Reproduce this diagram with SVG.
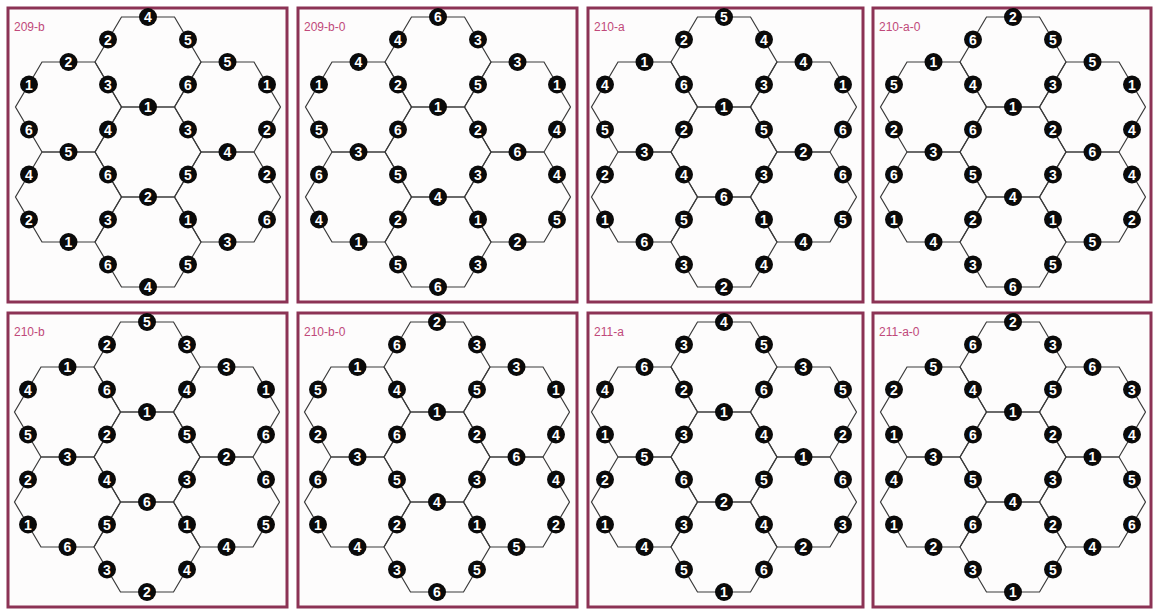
<svg xmlns="http://www.w3.org/2000/svg" xmlns:xlink="http://www.w3.org/1999/xlink" width="1155" height="610" viewBox="0 0 1155 610">
<style>
.frame{fill:#fdfcfc;stroke:#8c3355;stroke-width:3}
.ttl{font-family:"Liberation Sans",Arial,sans-serif;font-size:12px;fill:#c0497a}
.edge{fill:none;stroke:#3a3a3a;stroke-width:1.2}
.n circle{fill:#0a0a0a}
.n text{font-family:"Liberation Sans",Arial,sans-serif;font-weight:bold;font-size:14px;fill:#ffffff;text-anchor:middle}
</style>
<defs>
<polygon id="hx" class="edge" points="-26.5,-45 26.5,-45 53,0 26.5,45 -26.5,45 -53,0"/>
<g id="grid">
<use xlink:href="#hx" href="#hx"/>
<use xlink:href="#hx" href="#hx" y="-90"/>
<use xlink:href="#hx" href="#hx" y="90"/>
<use xlink:href="#hx" href="#hx" x="-79.5" y="-45"/>
<use xlink:href="#hx" href="#hx" x="79.5" y="-45"/>
<use xlink:href="#hx" href="#hx" x="-79.5" y="45"/>
<use xlink:href="#hx" href="#hx" x="79.5" y="45"/>
</g>
</defs>
<rect x="0" y="0" width="1155" height="610" fill="#ffffff"/>
<g id="frames">
<rect class="frame" x="8" y="8" width="279" height="294"/>
<rect class="frame" x="298" y="8" width="279" height="294"/>
<rect class="frame" x="588" y="8" width="275" height="294"/>
<rect class="frame" x="873" y="8" width="278" height="294"/>
<rect class="frame" x="8" y="313" width="279" height="294"/>
<rect class="frame" x="298" y="313" width="279" height="294"/>
<rect class="frame" x="588" y="313" width="275" height="294"/>
<rect class="frame" x="873" y="313" width="278" height="294"/>
<text class="ttl" x="14" y="31">209-b</text>
<text class="ttl" x="304" y="31">209-b-0</text>
<text class="ttl" x="594" y="31">210-a</text>
<text class="ttl" x="879" y="31">210-a-0</text>
<text class="ttl" x="14" y="336">210-b</text>
<text class="ttl" x="304" y="336">210-b-0</text>
<text class="ttl" x="594" y="336">211-a</text>
<text class="ttl" x="879" y="336">211-a-0</text>
</g>
<g id="connectors">
<use xlink:href="#grid" href="#grid" x="148" y="152"/>
<use xlink:href="#grid" href="#grid" x="438" y="152"/>
<use xlink:href="#grid" href="#grid" x="724" y="152"/>
<use xlink:href="#grid" href="#grid" x="1013" y="152"/>
<use xlink:href="#grid" href="#grid" x="147" y="457"/>
<use xlink:href="#grid" href="#grid" x="437" y="457"/>
<use xlink:href="#grid" href="#grid" x="724" y="457"/>
<use xlink:href="#grid" href="#grid" x="1013" y="457"/>
</g>
<g id="panel1" transform="translate(148,152)">
<g id="p1n1" class="n" transform="translate(0,-135)"><circle r="9"/><text y="5">4</text></g>
<g id="p1n2" class="n" transform="translate(-40,-112.5)"><circle r="9"/><text y="5">2</text></g>
<g id="p1n3" class="n" transform="translate(40,-112.5)"><circle r="9"/><text y="5">5</text></g>
<g id="p1n4" class="n" transform="translate(-79.5,-90)"><circle r="9"/><text y="5">2</text></g>
<g id="p1n5" class="n" transform="translate(-119,-67.5)"><circle r="9"/><text y="5">1</text></g>
<g id="p1n6" class="n" transform="translate(-119,-22.5)"><circle r="9"/><text y="5">6</text></g>
<g id="p1n7" class="n" transform="translate(-40,-67.5)"><circle r="9"/><text y="5">3</text></g>
<g id="p1n8" class="n" transform="translate(-40,-22.5)"><circle r="9"/><text y="5">4</text></g>
<g id="p1n9" class="n" transform="translate(0,-45)"><circle r="9"/><text y="5">1</text></g>
<g id="p1n10" class="n" transform="translate(40,-67.5)"><circle r="9"/><text y="5">6</text></g>
<g id="p1n11" class="n" transform="translate(40,-22.5)"><circle r="9"/><text y="5">3</text></g>
<g id="p1n12" class="n" transform="translate(79.5,-90)"><circle r="9"/><text y="5">5</text></g>
<g id="p1n13" class="n" transform="translate(119,-67.5)"><circle r="9"/><text y="5">1</text></g>
<g id="p1n14" class="n" transform="translate(119,-22.5)"><circle r="9"/><text y="5">2</text></g>
<g id="p1n15" class="n" transform="translate(-79.5,0)"><circle r="9"/><text y="5">5</text></g>
<g id="p1n16" class="n" transform="translate(79.5,0)"><circle r="9"/><text y="5">4</text></g>
<g id="p1n17" class="n" transform="translate(-119,22.5)"><circle r="9"/><text y="5">4</text></g>
<g id="p1n18" class="n" transform="translate(-119,67.5)"><circle r="9"/><text y="5">2</text></g>
<g id="p1n19" class="n" transform="translate(-79.5,90)"><circle r="9"/><text y="5">1</text></g>
<g id="p1n20" class="n" transform="translate(-40,22.5)"><circle r="9"/><text y="5">6</text></g>
<g id="p1n21" class="n" transform="translate(0,45)"><circle r="9"/><text y="5">2</text></g>
<g id="p1n22" class="n" transform="translate(40,22.5)"><circle r="9"/><text y="5">5</text></g>
<g id="p1n23" class="n" transform="translate(119,22.5)"><circle r="9"/><text y="5">2</text></g>
<g id="p1n24" class="n" transform="translate(119,67.5)"><circle r="9"/><text y="5">6</text></g>
<g id="p1n25" class="n" transform="translate(79.5,90)"><circle r="9"/><text y="5">3</text></g>
<g id="p1n26" class="n" transform="translate(-40,67.5)"><circle r="9"/><text y="5">3</text></g>
<g id="p1n27" class="n" transform="translate(40,67.5)"><circle r="9"/><text y="5">1</text></g>
<g id="p1n28" class="n" transform="translate(-40,112.5)"><circle r="9"/><text y="5">6</text></g>
<g id="p1n29" class="n" transform="translate(0,135)"><circle r="9"/><text y="5">4</text></g>
<g id="p1n30" class="n" transform="translate(40,112.5)"><circle r="9"/><text y="5">5</text></g>
</g>
<g id="panel2" transform="translate(438,152)">
<g id="p2n1" class="n" transform="translate(0,-135)"><circle r="9"/><text y="5">6</text></g>
<g id="p2n2" class="n" transform="translate(-40,-112.5)"><circle r="9"/><text y="5">4</text></g>
<g id="p2n3" class="n" transform="translate(40,-112.5)"><circle r="9"/><text y="5">3</text></g>
<g id="p2n4" class="n" transform="translate(-79.5,-90)"><circle r="9"/><text y="5">4</text></g>
<g id="p2n5" class="n" transform="translate(-119,-67.5)"><circle r="9"/><text y="5">1</text></g>
<g id="p2n6" class="n" transform="translate(-119,-22.5)"><circle r="9"/><text y="5">5</text></g>
<g id="p2n7" class="n" transform="translate(-40,-67.5)"><circle r="9"/><text y="5">2</text></g>
<g id="p2n8" class="n" transform="translate(-40,-22.5)"><circle r="9"/><text y="5">6</text></g>
<g id="p2n9" class="n" transform="translate(0,-45)"><circle r="9"/><text y="5">1</text></g>
<g id="p2n10" class="n" transform="translate(40,-67.5)"><circle r="9"/><text y="5">5</text></g>
<g id="p2n11" class="n" transform="translate(40,-22.5)"><circle r="9"/><text y="5">2</text></g>
<g id="p2n12" class="n" transform="translate(79.5,-90)"><circle r="9"/><text y="5">3</text></g>
<g id="p2n13" class="n" transform="translate(119,-67.5)"><circle r="9"/><text y="5">1</text></g>
<g id="p2n14" class="n" transform="translate(119,-22.5)"><circle r="9"/><text y="5">4</text></g>
<g id="p2n15" class="n" transform="translate(-79.5,0)"><circle r="9"/><text y="5">3</text></g>
<g id="p2n16" class="n" transform="translate(79.5,0)"><circle r="9"/><text y="5">6</text></g>
<g id="p2n17" class="n" transform="translate(-119,22.5)"><circle r="9"/><text y="5">6</text></g>
<g id="p2n18" class="n" transform="translate(-119,67.5)"><circle r="9"/><text y="5">4</text></g>
<g id="p2n19" class="n" transform="translate(-79.5,90)"><circle r="9"/><text y="5">1</text></g>
<g id="p2n20" class="n" transform="translate(-40,22.5)"><circle r="9"/><text y="5">5</text></g>
<g id="p2n21" class="n" transform="translate(0,45)"><circle r="9"/><text y="5">4</text></g>
<g id="p2n22" class="n" transform="translate(40,22.5)"><circle r="9"/><text y="5">3</text></g>
<g id="p2n23" class="n" transform="translate(119,22.5)"><circle r="9"/><text y="5">4</text></g>
<g id="p2n24" class="n" transform="translate(119,67.5)"><circle r="9"/><text y="5">5</text></g>
<g id="p2n25" class="n" transform="translate(79.5,90)"><circle r="9"/><text y="5">2</text></g>
<g id="p2n26" class="n" transform="translate(-40,67.5)"><circle r="9"/><text y="5">2</text></g>
<g id="p2n27" class="n" transform="translate(40,67.5)"><circle r="9"/><text y="5">1</text></g>
<g id="p2n28" class="n" transform="translate(-40,112.5)"><circle r="9"/><text y="5">5</text></g>
<g id="p2n29" class="n" transform="translate(0,135)"><circle r="9"/><text y="5">6</text></g>
<g id="p2n30" class="n" transform="translate(40,112.5)"><circle r="9"/><text y="5">3</text></g>
</g>
<g id="panel3" transform="translate(724,152)">
<g id="p3n1" class="n" transform="translate(0,-135)"><circle r="9"/><text y="5">5</text></g>
<g id="p3n2" class="n" transform="translate(-40,-112.5)"><circle r="9"/><text y="5">2</text></g>
<g id="p3n3" class="n" transform="translate(40,-112.5)"><circle r="9"/><text y="5">4</text></g>
<g id="p3n4" class="n" transform="translate(-79.5,-90)"><circle r="9"/><text y="5">1</text></g>
<g id="p3n5" class="n" transform="translate(-119,-67.5)"><circle r="9"/><text y="5">4</text></g>
<g id="p3n6" class="n" transform="translate(-119,-22.5)"><circle r="9"/><text y="5">5</text></g>
<g id="p3n7" class="n" transform="translate(-40,-67.5)"><circle r="9"/><text y="5">6</text></g>
<g id="p3n8" class="n" transform="translate(-40,-22.5)"><circle r="9"/><text y="5">2</text></g>
<g id="p3n9" class="n" transform="translate(0,-45)"><circle r="9"/><text y="5">1</text></g>
<g id="p3n10" class="n" transform="translate(40,-67.5)"><circle r="9"/><text y="5">3</text></g>
<g id="p3n11" class="n" transform="translate(40,-22.5)"><circle r="9"/><text y="5">5</text></g>
<g id="p3n12" class="n" transform="translate(79.5,-90)"><circle r="9"/><text y="5">4</text></g>
<g id="p3n13" class="n" transform="translate(119,-67.5)"><circle r="9"/><text y="5">1</text></g>
<g id="p3n14" class="n" transform="translate(119,-22.5)"><circle r="9"/><text y="5">6</text></g>
<g id="p3n15" class="n" transform="translate(-79.5,0)"><circle r="9"/><text y="5">3</text></g>
<g id="p3n16" class="n" transform="translate(79.5,0)"><circle r="9"/><text y="5">2</text></g>
<g id="p3n17" class="n" transform="translate(-119,22.5)"><circle r="9"/><text y="5">2</text></g>
<g id="p3n18" class="n" transform="translate(-119,67.5)"><circle r="9"/><text y="5">1</text></g>
<g id="p3n19" class="n" transform="translate(-79.5,90)"><circle r="9"/><text y="5">6</text></g>
<g id="p3n20" class="n" transform="translate(-40,22.5)"><circle r="9"/><text y="5">4</text></g>
<g id="p3n21" class="n" transform="translate(0,45)"><circle r="9"/><text y="5">6</text></g>
<g id="p3n22" class="n" transform="translate(40,22.5)"><circle r="9"/><text y="5">3</text></g>
<g id="p3n23" class="n" transform="translate(119,22.5)"><circle r="9"/><text y="5">6</text></g>
<g id="p3n24" class="n" transform="translate(119,67.5)"><circle r="9"/><text y="5">5</text></g>
<g id="p3n25" class="n" transform="translate(79.5,90)"><circle r="9"/><text y="5">4</text></g>
<g id="p3n26" class="n" transform="translate(-40,67.5)"><circle r="9"/><text y="5">5</text></g>
<g id="p3n27" class="n" transform="translate(40,67.5)"><circle r="9"/><text y="5">1</text></g>
<g id="p3n28" class="n" transform="translate(-40,112.5)"><circle r="9"/><text y="5">3</text></g>
<g id="p3n29" class="n" transform="translate(0,135)"><circle r="9"/><text y="5">2</text></g>
<g id="p3n30" class="n" transform="translate(40,112.5)"><circle r="9"/><text y="5">4</text></g>
</g>
<g id="panel4" transform="translate(1013,152)">
<g id="p4n1" class="n" transform="translate(0,-135)"><circle r="9"/><text y="5">2</text></g>
<g id="p4n2" class="n" transform="translate(-40,-112.5)"><circle r="9"/><text y="5">6</text></g>
<g id="p4n3" class="n" transform="translate(40,-112.5)"><circle r="9"/><text y="5">5</text></g>
<g id="p4n4" class="n" transform="translate(-79.5,-90)"><circle r="9"/><text y="5">1</text></g>
<g id="p4n5" class="n" transform="translate(-119,-67.5)"><circle r="9"/><text y="5">5</text></g>
<g id="p4n6" class="n" transform="translate(-119,-22.5)"><circle r="9"/><text y="5">2</text></g>
<g id="p4n7" class="n" transform="translate(-40,-67.5)"><circle r="9"/><text y="5">4</text></g>
<g id="p4n8" class="n" transform="translate(-40,-22.5)"><circle r="9"/><text y="5">6</text></g>
<g id="p4n9" class="n" transform="translate(0,-45)"><circle r="9"/><text y="5">1</text></g>
<g id="p4n10" class="n" transform="translate(40,-67.5)"><circle r="9"/><text y="5">3</text></g>
<g id="p4n11" class="n" transform="translate(40,-22.5)"><circle r="9"/><text y="5">2</text></g>
<g id="p4n12" class="n" transform="translate(79.5,-90)"><circle r="9"/><text y="5">5</text></g>
<g id="p4n13" class="n" transform="translate(119,-67.5)"><circle r="9"/><text y="5">1</text></g>
<g id="p4n14" class="n" transform="translate(119,-22.5)"><circle r="9"/><text y="5">4</text></g>
<g id="p4n15" class="n" transform="translate(-79.5,0)"><circle r="9"/><text y="5">3</text></g>
<g id="p4n16" class="n" transform="translate(79.5,0)"><circle r="9"/><text y="5">6</text></g>
<g id="p4n17" class="n" transform="translate(-119,22.5)"><circle r="9"/><text y="5">6</text></g>
<g id="p4n18" class="n" transform="translate(-119,67.5)"><circle r="9"/><text y="5">1</text></g>
<g id="p4n19" class="n" transform="translate(-79.5,90)"><circle r="9"/><text y="5">4</text></g>
<g id="p4n20" class="n" transform="translate(-40,22.5)"><circle r="9"/><text y="5">5</text></g>
<g id="p4n21" class="n" transform="translate(0,45)"><circle r="9"/><text y="5">4</text></g>
<g id="p4n22" class="n" transform="translate(40,22.5)"><circle r="9"/><text y="5">3</text></g>
<g id="p4n23" class="n" transform="translate(119,22.5)"><circle r="9"/><text y="5">4</text></g>
<g id="p4n24" class="n" transform="translate(119,67.5)"><circle r="9"/><text y="5">2</text></g>
<g id="p4n25" class="n" transform="translate(79.5,90)"><circle r="9"/><text y="5">5</text></g>
<g id="p4n26" class="n" transform="translate(-40,67.5)"><circle r="9"/><text y="5">2</text></g>
<g id="p4n27" class="n" transform="translate(40,67.5)"><circle r="9"/><text y="5">1</text></g>
<g id="p4n28" class="n" transform="translate(-40,112.5)"><circle r="9"/><text y="5">3</text></g>
<g id="p4n29" class="n" transform="translate(0,135)"><circle r="9"/><text y="5">6</text></g>
<g id="p4n30" class="n" transform="translate(40,112.5)"><circle r="9"/><text y="5">5</text></g>
</g>
<g id="panel5" transform="translate(147,457)">
<g id="p5n1" class="n" transform="translate(0,-135)"><circle r="9"/><text y="5">5</text></g>
<g id="p5n2" class="n" transform="translate(-40,-112.5)"><circle r="9"/><text y="5">2</text></g>
<g id="p5n3" class="n" transform="translate(40,-112.5)"><circle r="9"/><text y="5">3</text></g>
<g id="p5n4" class="n" transform="translate(-79.5,-90)"><circle r="9"/><text y="5">1</text></g>
<g id="p5n5" class="n" transform="translate(-119,-67.5)"><circle r="9"/><text y="5">4</text></g>
<g id="p5n6" class="n" transform="translate(-119,-22.5)"><circle r="9"/><text y="5">5</text></g>
<g id="p5n7" class="n" transform="translate(-40,-67.5)"><circle r="9"/><text y="5">6</text></g>
<g id="p5n8" class="n" transform="translate(-40,-22.5)"><circle r="9"/><text y="5">2</text></g>
<g id="p5n9" class="n" transform="translate(0,-45)"><circle r="9"/><text y="5">1</text></g>
<g id="p5n10" class="n" transform="translate(40,-67.5)"><circle r="9"/><text y="5">4</text></g>
<g id="p5n11" class="n" transform="translate(40,-22.5)"><circle r="9"/><text y="5">5</text></g>
<g id="p5n12" class="n" transform="translate(79.5,-90)"><circle r="9"/><text y="5">3</text></g>
<g id="p5n13" class="n" transform="translate(119,-67.5)"><circle r="9"/><text y="5">1</text></g>
<g id="p5n14" class="n" transform="translate(119,-22.5)"><circle r="9"/><text y="5">6</text></g>
<g id="p5n15" class="n" transform="translate(-79.5,0)"><circle r="9"/><text y="5">3</text></g>
<g id="p5n16" class="n" transform="translate(79.5,0)"><circle r="9"/><text y="5">2</text></g>
<g id="p5n17" class="n" transform="translate(-119,22.5)"><circle r="9"/><text y="5">2</text></g>
<g id="p5n18" class="n" transform="translate(-119,67.5)"><circle r="9"/><text y="5">1</text></g>
<g id="p5n19" class="n" transform="translate(-79.5,90)"><circle r="9"/><text y="5">6</text></g>
<g id="p5n20" class="n" transform="translate(-40,22.5)"><circle r="9"/><text y="5">4</text></g>
<g id="p5n21" class="n" transform="translate(0,45)"><circle r="9"/><text y="5">6</text></g>
<g id="p5n22" class="n" transform="translate(40,22.5)"><circle r="9"/><text y="5">3</text></g>
<g id="p5n23" class="n" transform="translate(119,22.5)"><circle r="9"/><text y="5">6</text></g>
<g id="p5n24" class="n" transform="translate(119,67.5)"><circle r="9"/><text y="5">5</text></g>
<g id="p5n25" class="n" transform="translate(79.5,90)"><circle r="9"/><text y="5">4</text></g>
<g id="p5n26" class="n" transform="translate(-40,67.5)"><circle r="9"/><text y="5">5</text></g>
<g id="p5n27" class="n" transform="translate(40,67.5)"><circle r="9"/><text y="5">1</text></g>
<g id="p5n28" class="n" transform="translate(-40,112.5)"><circle r="9"/><text y="5">3</text></g>
<g id="p5n29" class="n" transform="translate(0,135)"><circle r="9"/><text y="5">2</text></g>
<g id="p5n30" class="n" transform="translate(40,112.5)"><circle r="9"/><text y="5">4</text></g>
</g>
<g id="panel6" transform="translate(437,457)">
<g id="p6n1" class="n" transform="translate(0,-135)"><circle r="9"/><text y="5">2</text></g>
<g id="p6n2" class="n" transform="translate(-40,-112.5)"><circle r="9"/><text y="5">6</text></g>
<g id="p6n3" class="n" transform="translate(40,-112.5)"><circle r="9"/><text y="5">3</text></g>
<g id="p6n4" class="n" transform="translate(-79.5,-90)"><circle r="9"/><text y="5">1</text></g>
<g id="p6n5" class="n" transform="translate(-119,-67.5)"><circle r="9"/><text y="5">5</text></g>
<g id="p6n6" class="n" transform="translate(-119,-22.5)"><circle r="9"/><text y="5">2</text></g>
<g id="p6n7" class="n" transform="translate(-40,-67.5)"><circle r="9"/><text y="5">4</text></g>
<g id="p6n8" class="n" transform="translate(-40,-22.5)"><circle r="9"/><text y="5">6</text></g>
<g id="p6n9" class="n" transform="translate(0,-45)"><circle r="9"/><text y="5">1</text></g>
<g id="p6n10" class="n" transform="translate(40,-67.5)"><circle r="9"/><text y="5">5</text></g>
<g id="p6n11" class="n" transform="translate(40,-22.5)"><circle r="9"/><text y="5">2</text></g>
<g id="p6n12" class="n" transform="translate(79.5,-90)"><circle r="9"/><text y="5">3</text></g>
<g id="p6n13" class="n" transform="translate(119,-67.5)"><circle r="9"/><text y="5">1</text></g>
<g id="p6n14" class="n" transform="translate(119,-22.5)"><circle r="9"/><text y="5">4</text></g>
<g id="p6n15" class="n" transform="translate(-79.5,0)"><circle r="9"/><text y="5">3</text></g>
<g id="p6n16" class="n" transform="translate(79.5,0)"><circle r="9"/><text y="5">6</text></g>
<g id="p6n17" class="n" transform="translate(-119,22.5)"><circle r="9"/><text y="5">6</text></g>
<g id="p6n18" class="n" transform="translate(-119,67.5)"><circle r="9"/><text y="5">1</text></g>
<g id="p6n19" class="n" transform="translate(-79.5,90)"><circle r="9"/><text y="5">4</text></g>
<g id="p6n20" class="n" transform="translate(-40,22.5)"><circle r="9"/><text y="5">5</text></g>
<g id="p6n21" class="n" transform="translate(0,45)"><circle r="9"/><text y="5">4</text></g>
<g id="p6n22" class="n" transform="translate(40,22.5)"><circle r="9"/><text y="5">3</text></g>
<g id="p6n23" class="n" transform="translate(119,22.5)"><circle r="9"/><text y="5">4</text></g>
<g id="p6n24" class="n" transform="translate(119,67.5)"><circle r="9"/><text y="5">2</text></g>
<g id="p6n25" class="n" transform="translate(79.5,90)"><circle r="9"/><text y="5">5</text></g>
<g id="p6n26" class="n" transform="translate(-40,67.5)"><circle r="9"/><text y="5">2</text></g>
<g id="p6n27" class="n" transform="translate(40,67.5)"><circle r="9"/><text y="5">1</text></g>
<g id="p6n28" class="n" transform="translate(-40,112.5)"><circle r="9"/><text y="5">3</text></g>
<g id="p6n29" class="n" transform="translate(0,135)"><circle r="9"/><text y="5">6</text></g>
<g id="p6n30" class="n" transform="translate(40,112.5)"><circle r="9"/><text y="5">5</text></g>
</g>
<g id="panel7" transform="translate(724,457)">
<g id="p7n1" class="n" transform="translate(0,-135)"><circle r="9"/><text y="5">4</text></g>
<g id="p7n2" class="n" transform="translate(-40,-112.5)"><circle r="9"/><text y="5">3</text></g>
<g id="p7n3" class="n" transform="translate(40,-112.5)"><circle r="9"/><text y="5">5</text></g>
<g id="p7n4" class="n" transform="translate(-79.5,-90)"><circle r="9"/><text y="5">6</text></g>
<g id="p7n5" class="n" transform="translate(-119,-67.5)"><circle r="9"/><text y="5">4</text></g>
<g id="p7n6" class="n" transform="translate(-119,-22.5)"><circle r="9"/><text y="5">1</text></g>
<g id="p7n7" class="n" transform="translate(-40,-67.5)"><circle r="9"/><text y="5">2</text></g>
<g id="p7n8" class="n" transform="translate(-40,-22.5)"><circle r="9"/><text y="5">3</text></g>
<g id="p7n9" class="n" transform="translate(0,-45)"><circle r="9"/><text y="5">1</text></g>
<g id="p7n10" class="n" transform="translate(40,-67.5)"><circle r="9"/><text y="5">6</text></g>
<g id="p7n11" class="n" transform="translate(40,-22.5)"><circle r="9"/><text y="5">4</text></g>
<g id="p7n12" class="n" transform="translate(79.5,-90)"><circle r="9"/><text y="5">3</text></g>
<g id="p7n13" class="n" transform="translate(119,-67.5)"><circle r="9"/><text y="5">5</text></g>
<g id="p7n14" class="n" transform="translate(119,-22.5)"><circle r="9"/><text y="5">2</text></g>
<g id="p7n15" class="n" transform="translate(-79.5,0)"><circle r="9"/><text y="5">5</text></g>
<g id="p7n16" class="n" transform="translate(79.5,0)"><circle r="9"/><text y="5">1</text></g>
<g id="p7n17" class="n" transform="translate(-119,22.5)"><circle r="9"/><text y="5">2</text></g>
<g id="p7n18" class="n" transform="translate(-119,67.5)"><circle r="9"/><text y="5">1</text></g>
<g id="p7n19" class="n" transform="translate(-79.5,90)"><circle r="9"/><text y="5">4</text></g>
<g id="p7n20" class="n" transform="translate(-40,22.5)"><circle r="9"/><text y="5">6</text></g>
<g id="p7n21" class="n" transform="translate(0,45)"><circle r="9"/><text y="5">2</text></g>
<g id="p7n22" class="n" transform="translate(40,22.5)"><circle r="9"/><text y="5">5</text></g>
<g id="p7n23" class="n" transform="translate(119,22.5)"><circle r="9"/><text y="5">6</text></g>
<g id="p7n24" class="n" transform="translate(119,67.5)"><circle r="9"/><text y="5">3</text></g>
<g id="p7n25" class="n" transform="translate(79.5,90)"><circle r="9"/><text y="5">2</text></g>
<g id="p7n26" class="n" transform="translate(-40,67.5)"><circle r="9"/><text y="5">3</text></g>
<g id="p7n27" class="n" transform="translate(40,67.5)"><circle r="9"/><text y="5">4</text></g>
<g id="p7n28" class="n" transform="translate(-40,112.5)"><circle r="9"/><text y="5">5</text></g>
<g id="p7n29" class="n" transform="translate(0,135)"><circle r="9"/><text y="5">1</text></g>
<g id="p7n30" class="n" transform="translate(40,112.5)"><circle r="9"/><text y="5">6</text></g>
</g>
<g id="panel8" transform="translate(1013,457)">
<g id="p8n1" class="n" transform="translate(0,-135)"><circle r="9"/><text y="5">2</text></g>
<g id="p8n2" class="n" transform="translate(-40,-112.5)"><circle r="9"/><text y="5">6</text></g>
<g id="p8n3" class="n" transform="translate(40,-112.5)"><circle r="9"/><text y="5">3</text></g>
<g id="p8n4" class="n" transform="translate(-79.5,-90)"><circle r="9"/><text y="5">5</text></g>
<g id="p8n5" class="n" transform="translate(-119,-67.5)"><circle r="9"/><text y="5">2</text></g>
<g id="p8n6" class="n" transform="translate(-119,-22.5)"><circle r="9"/><text y="5">1</text></g>
<g id="p8n7" class="n" transform="translate(-40,-67.5)"><circle r="9"/><text y="5">4</text></g>
<g id="p8n8" class="n" transform="translate(-40,-22.5)"><circle r="9"/><text y="5">6</text></g>
<g id="p8n9" class="n" transform="translate(0,-45)"><circle r="9"/><text y="5">1</text></g>
<g id="p8n10" class="n" transform="translate(40,-67.5)"><circle r="9"/><text y="5">5</text></g>
<g id="p8n11" class="n" transform="translate(40,-22.5)"><circle r="9"/><text y="5">2</text></g>
<g id="p8n12" class="n" transform="translate(79.5,-90)"><circle r="9"/><text y="5">6</text></g>
<g id="p8n13" class="n" transform="translate(119,-67.5)"><circle r="9"/><text y="5">3</text></g>
<g id="p8n14" class="n" transform="translate(119,-22.5)"><circle r="9"/><text y="5">4</text></g>
<g id="p8n15" class="n" transform="translate(-79.5,0)"><circle r="9"/><text y="5">3</text></g>
<g id="p8n16" class="n" transform="translate(79.5,0)"><circle r="9"/><text y="5">1</text></g>
<g id="p8n17" class="n" transform="translate(-119,22.5)"><circle r="9"/><text y="5">4</text></g>
<g id="p8n18" class="n" transform="translate(-119,67.5)"><circle r="9"/><text y="5">1</text></g>
<g id="p8n19" class="n" transform="translate(-79.5,90)"><circle r="9"/><text y="5">2</text></g>
<g id="p8n20" class="n" transform="translate(-40,22.5)"><circle r="9"/><text y="5">5</text></g>
<g id="p8n21" class="n" transform="translate(0,45)"><circle r="9"/><text y="5">4</text></g>
<g id="p8n22" class="n" transform="translate(40,22.5)"><circle r="9"/><text y="5">3</text></g>
<g id="p8n23" class="n" transform="translate(119,22.5)"><circle r="9"/><text y="5">5</text></g>
<g id="p8n24" class="n" transform="translate(119,67.5)"><circle r="9"/><text y="5">6</text></g>
<g id="p8n25" class="n" transform="translate(79.5,90)"><circle r="9"/><text y="5">4</text></g>
<g id="p8n26" class="n" transform="translate(-40,67.5)"><circle r="9"/><text y="5">6</text></g>
<g id="p8n27" class="n" transform="translate(40,67.5)"><circle r="9"/><text y="5">2</text></g>
<g id="p8n28" class="n" transform="translate(-40,112.5)"><circle r="9"/><text y="5">3</text></g>
<g id="p8n29" class="n" transform="translate(0,135)"><circle r="9"/><text y="5">1</text></g>
<g id="p8n30" class="n" transform="translate(40,112.5)"><circle r="9"/><text y="5">5</text></g>
</g>
</svg>
